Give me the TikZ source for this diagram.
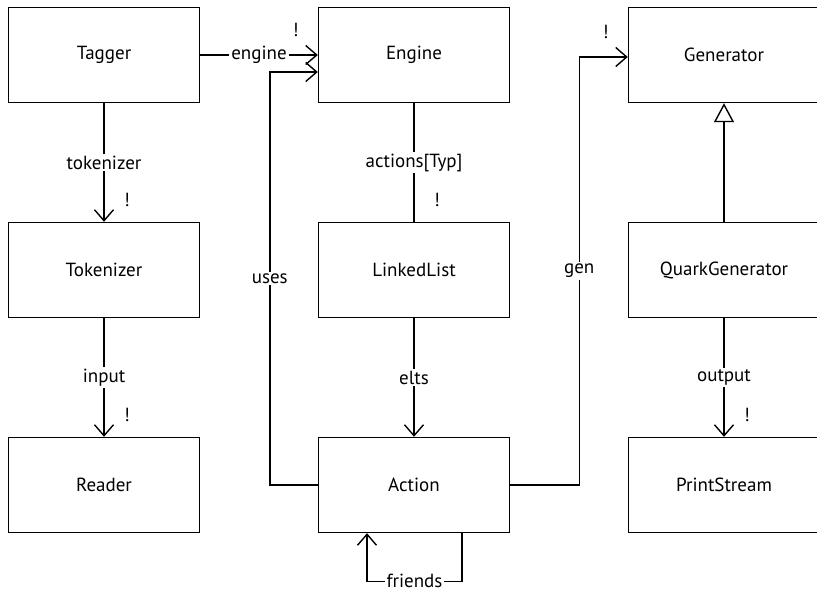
\documentclass[tikz,border=0pt]{standalone}
\usepackage{fontspec}
\setmainfont{PT Sans}
\usetikzlibrary{arrows.meta}
\begin{document}
\begin{tikzpicture}
           [x=1pt,y=-1pt,line width=1.4pt,
            font=\fontsize{19}{22}\selectfont,
            cls/.style={draw,minimum width=191pt,minimum height=95pt,inner sep=0pt},
            lbl/.style={fill=white,inner sep=2pt},
            assoc/.style={-{Straight Barb[length=11pt,width=19pt]}},
            inherit/.style={-{Triangle[open,length=19pt,width=20pt,fill=white]}},
            vbang/.style={pos=1,xshift=23pt,yshift=22pt,inner sep=0pt},
            hbang/.style={pos=1,xshift=-22pt,yshift=25pt,inner sep=0pt}]
           \useasboundingbox (0,0) rectangle (817,593);

           \node[cls] (tagger) at (104,55) {Tagger};
           \node[cls] (engine) at (414,55) {Engine};
           \node[cls] (generator) at (724,55) {Generator};

           \node[cls] (tokenizer) at (104,270) {Tokenizer};
           \node[cls] (linkedlist) at (414,270) {LinkedList};
           \node[cls] (quark) at (724,270) {QuarkGenerator};

           \node[cls] (reader) at (104,485) {Reader};
           \node[cls] (action) at (414,485) {Action};
           \node[cls] (printstream) at (724,485) {PrintStream};

           \draw[assoc] (tagger) -- node[lbl] {engine} node[hbang] {!} (engine);
           \draw[assoc] (tagger) -- node[lbl] {tokenizer} node[vbang] {!} (tokenizer);
           \draw[assoc] (tokenizer) -- node[lbl] {input} node[vbang] {!} (reader);

           \draw (engine) -- node[lbl] {actions[Typ]} node[vbang] {!} (linkedlist);
           \draw[assoc] (linkedlist) -- node[lbl] {elts} (action);

           \draw[assoc] (action.west) -- ++(-48,0)
             |- node[pos=0.25,lbl] {uses} ([yshift=-17pt]engine.west);
           \draw[assoc] (action.east) -- ++(69,0)
             |- node[pos=0.25,lbl] {gen} node[hbang] {!} ([yshift=-2pt]generator.west);
           \draw[assoc] ([xshift=48pt]action.south) -- ++(0,48)
             -| node[pos=0.25,lbl] {friends} ([xshift=-47pt]action.south);

           \draw[inherit] (quark) -- (generator);
           \draw[assoc] (quark) -- node[lbl] {output} node[vbang] {!} (printstream);
         \end{tikzpicture}
\end{document}
